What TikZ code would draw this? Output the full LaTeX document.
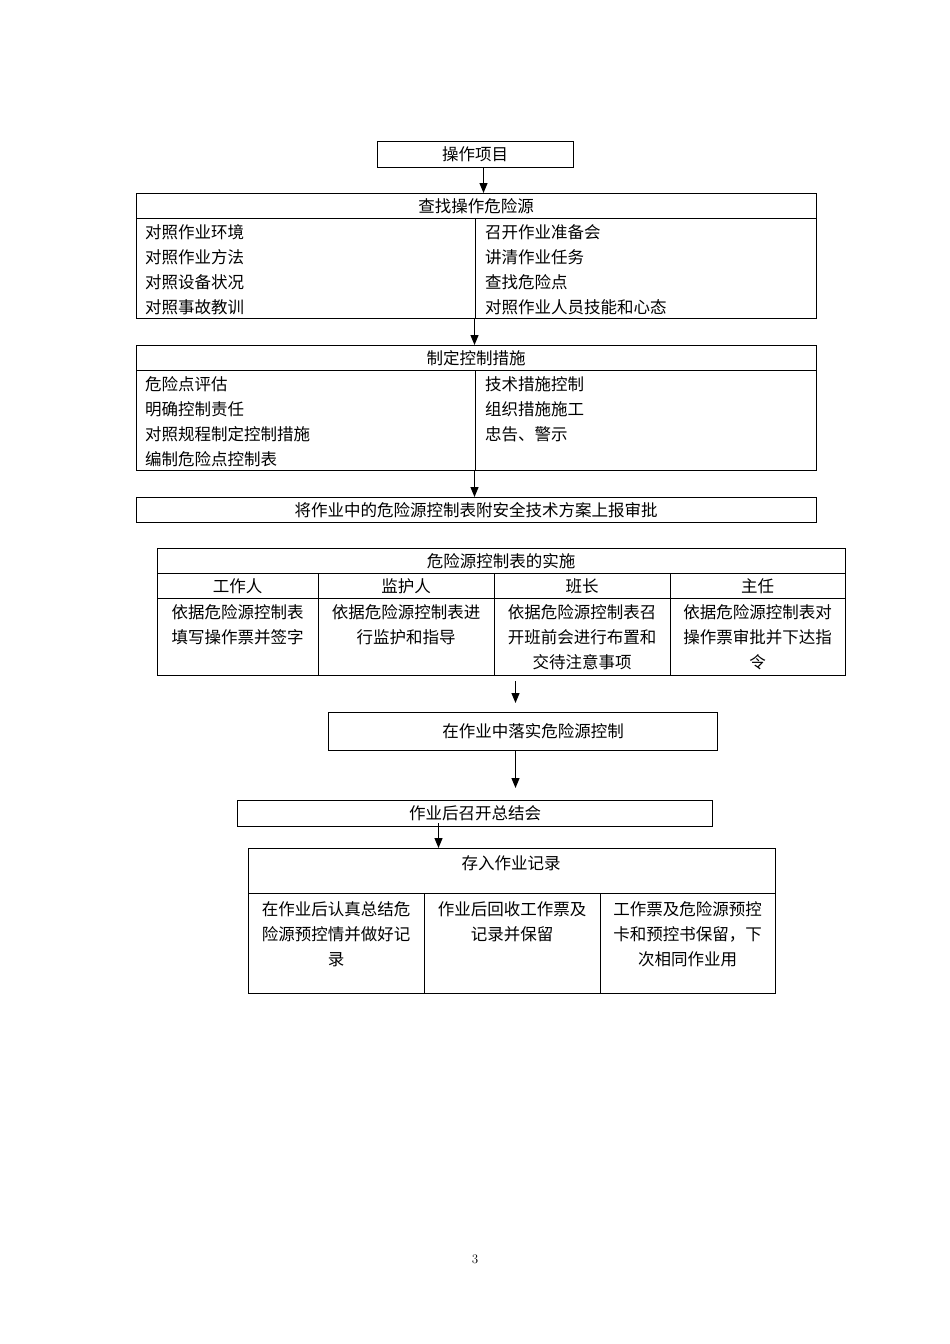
\documentclass[tikz,border=0pt]{standalone}
\usepackage{fontspec}
\newfontfamily\cjk{Noto Sans CJK SC}
\usetikzlibrary{arrows.meta,calc}
\begin{document}
\begin{tikzpicture}[x=1pt,y=-1pt,
  box/.style={draw,line width=1pt,inner sep=0pt,anchor=north west},
  txt/.style={inner sep=0pt,font=\cjk\fontsize{16.5}{25}\selectfont},
  cell/.style={txt,align=center,anchor=north},
  col/.style={txt,align=left,anchor=north west},
  rule/.style={line width=1pt},
  arr/.style={line width=1.2pt,-{Triangle[width=8pt,length=10pt]}}]
\useasboundingbox (0,0) rectangle (950,1344);
% box 1
\node[box,minimum width=196pt,minimum height=26pt] (n1) at (377,141) {};
\node[txt] (l1) at (475,154) {操作项目};
% box 2
\node[box,minimum width=680pt,minimum height=125pt] (n2) at (136,193) {};
\coordinate (n2h) at (136,218);
\draw[rule] (n2h) -- (n2h -| n2.east);
\coordinate (n2d) at (475,218);
\draw[rule] (n2d) -- (n2d |- n2.south);
\node[txt] (l2) at (476,206) {查找操作危险源};
\node[col] (l2a) at (145,224) {对照作业环境\\对照作业方法\\对照设备状况\\对照事故教训};
\node[col] (l2b) at (485,224) {召开作业准备会\\讲清作业任务\\查找危险点\\对照作业人员技能和心态};
% box 3
\node[box,minimum width=680pt,minimum height=125pt] (n3) at (136,345) {};
\coordinate (n3h) at (136,370);
\draw[rule] (n3h) -- (n3h -| n3.east);
\coordinate (n3d) at (475,370);
\draw[rule] (n3d) -- (n3d |- n3.south);
\node[txt] (l3) at (476,358) {制定控制措施};
\node[col] (l3a) at (145,376) {危险点评估\\明确控制责任\\对照规程制定控制措施\\编制危险点控制表};
\node[col] (l3b) at (485,376) {技术措施控制\\组织措施施工\\忠告、警示};
% box 4
\node[box,minimum width=680pt,minimum height=25pt] (n4) at (136,497) {};
\node[txt] (l4) at (476,510) {将作业中的危险源控制表附安全技术方案上报审批};
% table
\node[box,minimum width=688pt,minimum height=127pt] (t) at (157,548) {};
\coordinate (th1) at (157,573);
\coordinate (th2) at (157,598);
\draw[rule] (th1) -- (th1 -| t.east);
\draw[rule] (th2) -- (th2 -| t.east);
\foreach \x in {318,494,670}{\draw[rule] (\x,573) -- (\x,675);}
\node[txt] (lt) at (501,561) {危险源控制表的实施};
\node[txt] (c1) at (237.5,586) {工作人};
\node[txt] (c2) at (406,586) {监护人};
\node[txt] (c3) at (582,586) {班长};
\node[txt] (c4) at (757.5,586) {主任};
\node[cell] (d1) at (237.5,604) {依据危险源控制表\\填写操作票并签字};
\node[cell] (d2) at (406,604) {依据危险源控制表进\\行监护和指导};
\node[cell] (d3) at (582,604) {依据危险源控制表召\\开班前会进行布置和\\交待注意事项};
\node[cell] (d4) at (757.5,604) {依据危险源控制表对\\操作票审批并下达指\\令};
% box 5
\node[box,minimum width=389pt,minimum height=38pt] (n5) at (328,712) {};
\node[txt] (l5) at (533,731) {在作业中落实危险源控制};
% box 6
\node[box,minimum width=475pt,minimum height=26pt] (n6) at (237,800) {};
\node[txt] (l6) at (475,813) {作业后召开总结会};
% box 7
\node[box,minimum width=527pt,minimum height=145pt] (n7) at (248,848) {};
\coordinate (n7h) at (248,893);
\draw[rule] (n7h) -- (n7h -| n7.east);
\foreach \x in {424,600}{\draw[rule] (\x,893) -- (\x,993);}
\node[txt] (l7) at (511,863) {存入作业记录};
\node[cell] (e1) at (336,901) {在作业后认真总结危\\险源预控情并做好记\\录};
\node[cell] (e2) at (512,901) {作业后回收工作票及\\记录并保留};
\node[cell] (e3) at (687.5,901) {工作票及危险源预控\\卡和预控书保留，下\\次相同作业用};
% page number
\node[inner sep=0pt,font=\fontsize{13}{15}\selectfont] (pg) at (475,1259) {3};
% arrows
\draw[arr] ([xshift=8pt]n1.south) -- ([xshift=8pt]n1.south |- n2.north);
\draw[arr] ([xshift=-2pt]n2.south) -- ([xshift=-2pt]n2.south |- n3.north);
\draw[arr] ([xshift=-2pt]n3.south) -- ([xshift=-2pt]n3.south |- n4.north);
\draw[arr] ([xshift=14pt,yshift=-5pt]t.south) -- ([xshift=14pt,yshift=9pt]t.south |- n5.north);
\draw[arr] ([xshift=-7.5pt]n5.south) -- ([xshift=-7.5pt,yshift=12pt]n5.south |- n6.north);
\draw[arr] ([xshift=-36.5pt,yshift=4pt]n6.south) -- ([xshift=-36.5pt]n6.south |- n7.north);
\end{tikzpicture}
\end{document}
